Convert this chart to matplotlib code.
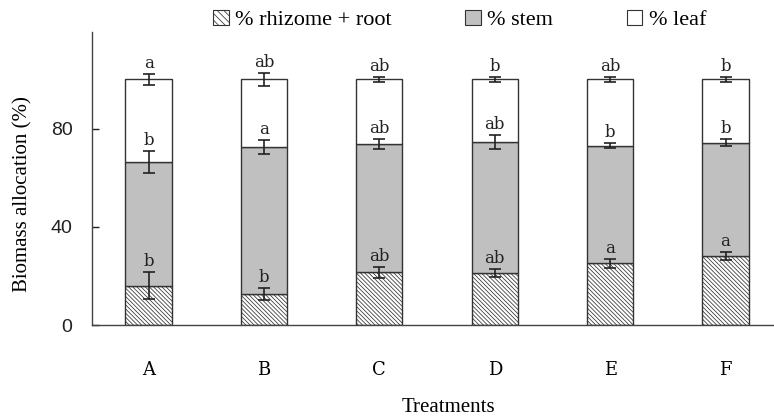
import matplotlib
matplotlib.use("Agg")
import matplotlib.pyplot as plt
import matplotlib.patches as mpatches
import numpy as np

plt.rcParams['hatch.color'] = '#b0b0b0'
plt.rcParams['hatch.linewidth'] = 0.55

treatments = ["A", "B", "C", "D", "E", "F"]
root = [16.0, 12.5, 21.5, 21.1, 25.1, 28.1]
root_err = [5.6, 2.4, 2.2, 1.6, 1.9, 1.8]
stem = [50.5, 60.1, 52.2, 53.3, 47.9, 46.2]
stem_err = [4.5, 2.85, 1.9, 2.85, 0.95, 1.6]   # error at top of stem (cumulative)
leaf = [100 - r - s for r, s in zip(root, stem)]
leaf_err = [2.2, 2.5, 1.1, 1.1, 1.1, 1.1]
root_letters = ["b", "b", "ab", "ab", "a", "a"]
stem_letters = ["b", "a", "ab", "ab", "b", "b"]
leaf_letters = ["a", "ab", "ab", "b", "ab", "b"]
legend_labels = ["% rhizome + root", "% stem", "% leaf"]
yticks = [0, 40, 80]

fig = plt.figure(figsize=(7.74, 4.19), dpi=100)
ax = fig.add_axes([0.1189, 0.2243, 0.8811, 0.6993])

x = np.arange(len(treatments))
w = 0.4
edge = '#333333'
hatch = '\\' * 8
root_arr = np.array(root)
stem_arr = np.array(stem)
leaf_arr = np.array(leaf)

ax.bar(x, root_arr, w, color='white', edgecolor=edge, hatch=hatch, linewidth=1.0, zorder=2)
ax.bar(x, stem_arr, w, bottom=root_arr, color='#c0c0c0', edgecolor=edge, linewidth=1.0, zorder=2)
ax.bar(x, leaf_arr, w, bottom=root_arr + stem_arr, color='white', edgecolor=edge, linewidth=1.0, zorder=2)

tops = [root_arr, root_arr + stem_arr, root_arr + stem_arr + leaf_arr]
errs = [root_err, stem_err, leaf_err]
letters = [root_letters, stem_letters, leaf_letters]
for t, e, l in zip(tops, errs, letters):
    ax.errorbar(x, t, yerr=e, fmt='none', ecolor='#222222', elinewidth=1.2,
                capsize=4, capthick=1.2, zorder=3)
    for xi, ti, ei, li in zip(x, t, e, l):
        ax.text(xi, ti + ei + 0.8, li, ha='center', va='bottom',
                fontsize=12, family='DejaVu Serif', color='#222222')

ax.set_xlim(-0.49, 5.42)
ax.set_ylim(0, 119.3)
ax.set_yticks(yticks)
ax.set_yticklabels([str(v) for v in yticks], family='Liberation Sans', fontsize=14)
ax.tick_params(axis='y', direction='in', length=5, width=1, pad=14, colors='#222222')
ax.tick_params(axis='x', length=0, pad=26)
ax.set_xticks(x)
ax.set_xticklabels(treatments, family='DejaVu Serif', fontsize=13)
for s in ['top', 'right']:
    ax.spines[s].set_visible(False)
for s in ['left', 'bottom']:
    ax.spines[s].set_color('#444444')
    ax.spines[s].set_linewidth(1.0)

fig.text(0.029, 0.538, "Biomass allocation (%)", family='Liberation Serif', fontsize=15,
         rotation=90, ha='center', va='center')
fig.text(0.579, 0.028, "Treatments", family='Liberation Serif', fontsize=15,
         ha='center', va='center')

handles = [
    mpatches.Patch(facecolor='white', edgecolor=edge, hatch='\\' * 5, linewidth=0.8),
    mpatches.Patch(facecolor='#c0c0c0', edgecolor=edge, linewidth=0.8),
    mpatches.Patch(facecolor='white', edgecolor=edge, linewidth=0.8),
]
fig.legend(handles, legend_labels, loc='center', bbox_to_anchor=(0.594, 0.952), ncol=3,
           frameon=False, prop={'family': 'Liberation Serif', 'size': 16},
           handlelength=0.7, handleheight=0.7, handletextpad=0.3, columnspacing=3.3)

fig.savefig("out.png", dpi=100)
